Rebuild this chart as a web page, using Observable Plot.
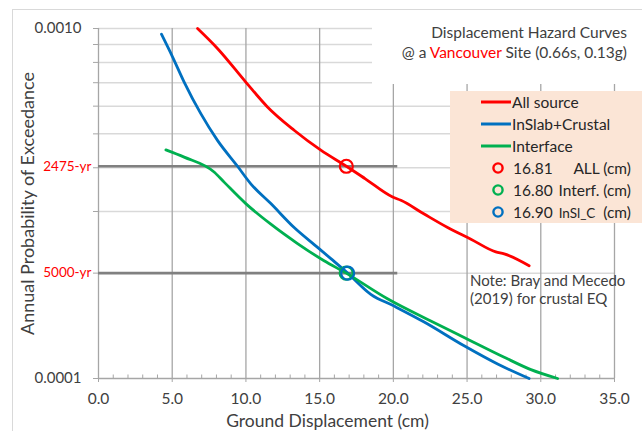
<!DOCTYPE html>
<html><head><meta charset="utf-8">
<script src="https://cdn.jsdelivr.net/npm/d3@7"></script>
<script src="https://cdn.jsdelivr.net/npm/@observablehq/plot@0.6"></script>
<style>
body{margin:0;background:#fff;font-family:Lato,sans-serif;}
#wrap{position:relative;width:642px;height:431px;overflow:hidden;background:#fff;}
#wrap svg.plotsvg{position:absolute;left:0;top:0;}
.frame{position:absolute;left:12px;top:9px;width:640px;height:440px;border:1px solid #d9d9d9;box-sizing:border-box;pointer-events:none}
#title{position:absolute;left:372px;top:22px;width:270px;height:62px;background:#fff;text-align:right;font-size:15.5px;line-height:20px;color:#404040;padding-right:15px;box-sizing:border-box;}
#legend{position:absolute;left:450px;top:91px;width:192px;height:132px;background:#fbe5d6;color:#262626;font-size:15.5px;}
.row{position:absolute;left:0;width:100%;height:22px;line-height:22px;}
.note{position:absolute;left:470px;top:272px;font-size:15px;line-height:17.6px;color:#404040;}
</style>
</head><body>
<div id="wrap"></div>
<script>
// ---- data ----
const allX = [6.72, 8.07, 9.99, 11.46, 13.27, 15.08, 16.81, 18.1, 19.95, 20.51, 22.09, 23.68, 25.26, 26.95, 27.52, 29.21];
const allP = [0.001, 0.000877, 0.000703, 0.000597, 0.000512, 0.000449, 0.000404, 0.000372, 0.00033, 0.000323, 0.000295, 0.00027, 0.00025, 0.00023, 0.000227, 0.00021];
const slabX = [4.27, 5.02, 5.81, 6.94, 8.07, 9.43, 10.33, 11.69, 13.27, 14.86, 15.76, 16.9, 18.47, 20.05, 22.09, 24.8, 27.07, 29.21];
const slabP = [0.000963, 0.00083, 0.000703, 0.000571, 0.000479, 0.000404, 0.00036, 0.000316, 0.00027, 0.000237, 0.00022, 0.0002, 0.000174, 0.000161, 0.000145, 0.000124, 0.00011, 0.0001];
const intX = [4.57, 5.81, 7.84, 8.52, 9.99, 11.69, 13.5, 15.3, 16.8, 19.6, 22.54, 24.8, 27.52, 29.33, 31.14];
const intP = [0.00045, 0.000429, 0.000389, 0.000364, 0.000316, 0.000276, 0.000243, 0.000217, 0.0002, 0.000169, 0.000146, 0.000131, 0.000115, 0.000106, 0.0001];

const seriesNames = ["All source", "InSlab+Crustal", "Interface"];
const seriesColors = ["#ff0000", "#0070c0", "#00b050"];

const markerX = [16.81, 16.80, 16.90];
const markerP = [1 / 2475, 1 / 5000, 1 / 5000];
const markerColors = ["#ff0000", "#00b050", "#0070c0"];
const markerValueText = ["16.81", "16.80", "16.90"];
const markerLabelWord = ["ALL", "Interf.", "InSl_C"];
const markerLabelUnit = [" (cm)", " (cm)", "\u00a0 (cm)"];

const retP = [1 / 2475, 1 / 5000];
const retLabels = ["2475-yr", "5000-yr"];
const retLineEnd = 20.3;

const xMajor = [0, 5, 10, 15, 20, 25, 30, 35];
const xMinor = [1, 2, 3, 4, 6, 7, 8, 9, 11, 12, 13, 14, 16, 17, 18, 19, 21, 22, 23, 24, 26, 27, 28, 29, 31, 32, 33, 34];
const yTicks = [0.0001, 0.0002, 0.0003, 0.0004, 0.0005, 0.0006, 0.0007, 0.0008, 0.0009, 0.001];
const yLabelVals = [0.0001, 0.001];
const yLabelText = ["0.0001", "0.0010"];

const titleLine1 = "Displacement Hazard Curves";
const titleLine2 = ["@ a ", "Vancouver", " Site (0.66s, 0.13g)"];
const noteLines = ["Note: Bray and Mecedo", "(2019) for crustal EQ"];
const xTitle = "Ground Displacement (cm)";
const yTitle = "Annual Probability of Exceedance";

// ---- build ----
const pts = (xs, ps) => xs.map((x, i) => ({x, p: ps[i]}));
const series = [pts(allX, allP), pts(slabX, slabP), pts(intX, intP)];
const markers = markerX.map((x, i) => ({x, p: markerP[i], c: markerColors[i]}));
const grey = "#a6a6a6";

const lineMarks = [0, 1, 2].map(i => Plot.line(series[i], {x: "x", y: "p", stroke: seriesColors[i], strokeWidth: 2.8, curve: "monotone-x"}));
const dotMarks = markers.map(m => Plot.dot([m], {x: "x", y: "p", stroke: m.c, r: 6.5, strokeWidth: 2.2, fill: "none"}));

const chart = Plot.plot({
  width: 642, height: 431,
  marginLeft: 98, marginRight: 28, marginTop: 28, marginBottom: 53,
  style: {fontFamily: "Lato, sans-serif", color: "#404040", background: "transparent"},
  x: {domain: [0, 35]},
  y: {type: "log", domain: [0.0001, 0.001]},
  marks: [
    Plot.ruleY(yTicks.slice(1), {stroke: "#d9d9d9", strokeWidth: 1.5}),
    Plot.ruleX(xMajor.slice(1), {stroke: grey, strokeWidth: 1.3}),
    Plot.ruleX([0], {stroke: grey, strokeWidth: 1.3}),
    Plot.ruleY([0.0001], {stroke: grey, strokeWidth: 1.3}),
    Plot.ruleY(retP, {x1: 0, x2: retLineEnd, stroke: "#808080", strokeWidth: 2.6}),
    Plot.ruleX(xMinor, {x: d => d, y1: 0.0001, y2: 0.0001, insetTop: -3.5, stroke: grey, strokeWidth: 1}),
    Plot.axisX(xMajor, {tickFormat: d => d.toFixed(1), tickSize: 4, tickPadding: 10, fontSize: 15.5, stroke: grey, fill: "#404040", label: null}),
    Plot.axisY(yTicks, {tickFormat: () => "", tickSize: 5, stroke: grey, label: null}),
    Plot.axisY(yLabelVals, {tickFormat: (d) => yLabelText[yLabelVals.indexOf(d)], tickSize: 5, tickPadding: 12, fontSize: 15, stroke: grey, fill: "#404040", label: null}),
    Plot.text(retP, {y: d => d, text: (d, i) => retLabels[i], frameAnchor: "left", textAnchor: "end", dx: -7, fill: "#ff0000", fontSize: 13.5}),
    Plot.text([yTitle], {frameAnchor: "left", textAnchor: "middle", lineAnchor: "middle", dx: -70, rotate: -90, fontSize: 18, fill: "#404040"}),
    Plot.text([xTitle], {frameAnchor: "bottom", textAnchor: "middle", lineAnchor: "middle", dx: -29, dy: 43, fontSize: 17.5, fill: "#404040"}),
    ...lineMarks,
    ...dotMarks
  ]
});
chart.classList.add("plotsvg");
const wrap = document.getElementById("wrap");
wrap.appendChild(chart);

const frame = document.createElement("div");
frame.className = "frame";
wrap.appendChild(frame);

const title = document.createElement("div");
title.id = "title";
title.innerHTML = `<div>${titleLine1}</div><div>${titleLine2[0]}<span style="color:#ff0000">${titleLine2[1]}</span>${titleLine2[2]}</div>`;
wrap.appendChild(title);

const legend = document.createElement("div");
legend.id = "legend";
let html = "";
seriesNames.forEach((n, i) => {
  html += `<div class="row" style="top:${i * 22}px"><svg width="30" height="22" style="position:absolute;left:31px;top:0"><line x1="0" x2="30" y1="11" y2="11" stroke="${seriesColors[i]}" stroke-width="3"/></svg><span style="position:absolute;left:62px">${n}</span></div>`;
});
markerValueText.forEach((v, i) => {
  const top = (i + 3) * 22;
  const small = i === 2 ? "font-size:13.5px" : "";
  html += `<div class="row" style="top:${top}px"><svg width="14" height="22" style="position:absolute;left:41px;top:0"><circle cx="7" cy="11" r="4.6" fill="none" stroke="${markerColors[i]}" stroke-width="2.4"/></svg><span style="position:absolute;left:63px">${v}</span><span style="position:absolute;right:11px"><span style="${small}">${markerLabelWord[i]}</span>${markerLabelUnit[i]}</span></div>`;
});
legend.innerHTML = html;
wrap.appendChild(legend);

const note = document.createElement("div");
note.className = "note";
note.innerHTML = noteLines.join("<br>");
wrap.appendChild(note);
</script>
</body></html>
